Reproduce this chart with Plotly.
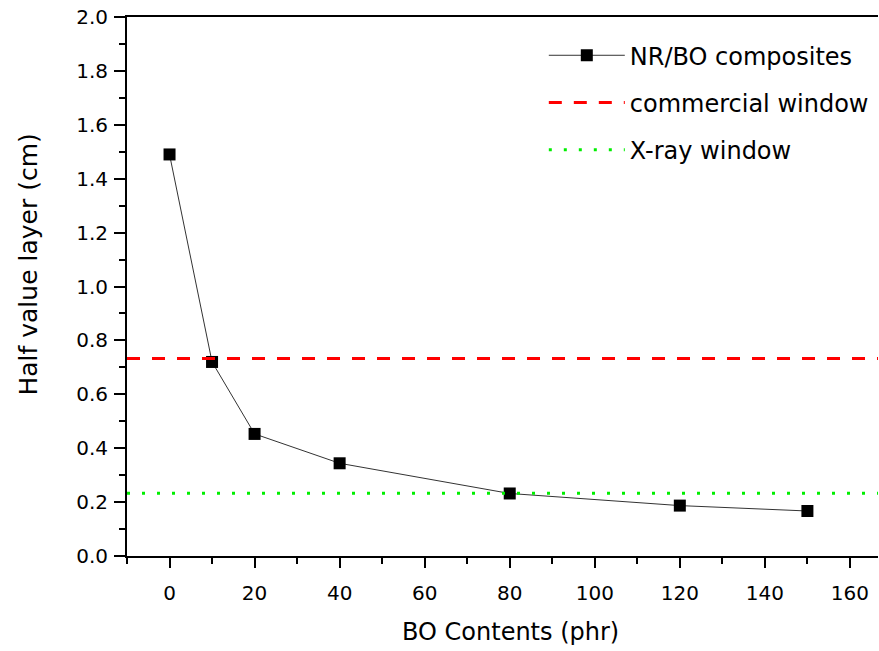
import plotly.graph_objects as go

bo_contents = [0, 10, 20, 40, 80, 120, 150]
hvl = [1.49, 0.72, 0.453, 0.344, 0.232, 0.187, 0.167]
commercial_window = 0.733
xray_window = 0.233
x_range = [-10, 166.6]
x_title = "BO Contents (phr)"
y_title = "Half value layer (cm)"

FONT = "DejaVu Sans"

fig = go.Figure()
fig.add_trace(go.Scatter(
    x=bo_contents, y=hvl, mode="lines+markers", name="NR/BO composites",
    line=dict(color="#333333", width=1),
    marker=dict(symbol="square", size=12, color="black"),
    legendgroup="a",
))
fig.add_trace(go.Scatter(
    x=x_range, y=[commercial_window] * 2, mode="lines", name="commercial window",
    line=dict(color="#ff0000", width=3, dash="13px,12px"),
    legendgroup="b",
))
fig.add_trace(go.Scatter(
    x=x_range, y=[xray_window] * 2, mode="lines", name="X-ray window",
    line=dict(color="#00ee00", width=3, dash="3px,12px"),
    legendgroup="c",
))

fig.update_layout(
    width=879, height=651,
    margin=dict(l=127, r=1, t=17, b=95, autoexpand=False),
    paper_bgcolor="white", plot_bgcolor="white",
    font=dict(family=FONT, size=20, color="black"),
    showlegend=True,
    legend=dict(
        x=0.555, y=0.97, xanchor="left", yanchor="top",
        font=dict(family=FONT, size=24, color="black"),
        itemwidth=76, tracegroupgap=13, traceorder="grouped",
        bgcolor="rgba(0,0,0,0)",
    ),
    xaxis=dict(
        range=x_range, tickvals=[0, 20, 40, 60, 80, 100, 120, 140, 160],
        showgrid=False, zeroline=False, showline=True, linecolor="black", linewidth=2,
        mirror=True, ticks="outside", ticklen=10, tickwidth=2, tickcolor="black",
        minor=dict(tickvals=[-10, 10, 30, 50, 70, 90, 110, 130, 150], ticks="outside", ticklen=6, tickwidth=2, tickcolor="black"),
        tickfont=dict(size=20), ticklabelstandoff=8, automargin=False,
        ticklabeloverflow="allow",
    ),
    yaxis=dict(
        range=[0, 2.0], tickvals=[0, 0.2, 0.4, 0.6, 0.8, 1.0, 1.2, 1.4, 1.6, 1.8, 2.0],
        ticktext=["0.0", "0.2", "0.4", "0.6", "0.8", "1.0", "1.2", "1.4", "1.6", "1.8", "2.0"],
        showgrid=False, zeroline=False, showline=True, linecolor="black", linewidth=2,
        ticks="outside", ticklen=11, tickwidth=2, tickcolor="black",
        minor=dict(tickvals=[0.1, 0.3, 0.5, 0.7, 0.9, 1.1, 1.3, 1.5, 1.7, 1.9], ticks="outside", ticklen=6, tickwidth=2, tickcolor="black"),
        tickfont=dict(size=20), ticklabelstandoff=2, automargin=False,
        ticklabeloverflow="allow",
    ),
    annotations=[
        dict(text=x_title, xref="paper", yref="paper", x=0.51, y=-0.141,
             xanchor="center", yanchor="middle", showarrow=False,
             font=dict(family=FONT, size=24, color="black")),
        dict(text=y_title, xref="paper", yref="paper", x=-0.131, y=0.54,
             xanchor="center", yanchor="middle", showarrow=False, textangle=-90,
             font=dict(family=FONT, size=25, color="black")),
    ],
)

# remove the default 8px page margin so the figure fills the 879x651 window exactly
fig.write_html("out.html", config={"displayModeBar": False},
               post_script="document.body.style.margin='0';")
